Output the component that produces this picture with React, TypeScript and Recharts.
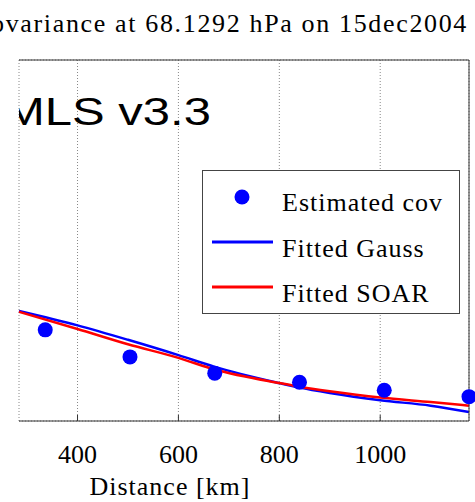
import React from 'react';
import {
  ComposedChart,
  Line,
  Scatter,
  XAxis,
  YAxis,
  CartesianGrid,
  Legend,
} from 'recharts';

// estimated covariance (arbitrary units, y tick labels are cropped away)
const covDistance = [336, 504, 672, 840, 1008, 1176];
const covEstimated = [1.01, 0.71, 0.53, 0.43, 0.34, 0.27];

// fitted curves sampled along the distance axis
const fitDistance = [284, 400, 500, 600, 672, 800, 840, 900, 1000, 1100, 1176];
const gaussFit = [1.22, 1.06, 0.9, 0.73, 0.6, 0.42, 0.37, 0.31, 0.23, 0.17, 0.1];
const soarFit = [1.21, 1.02, 0.85, 0.7, 0.57, 0.42, 0.38, 0.33, 0.26, 0.21, 0.17];

const xTicks = [400, 600, 800, 1000];
const yTicks = [1, 2, 3];

const titleText = 'Covariance at 68.1292 hPa on 15dec2004';
const versionText = 'MLS v3.3';
const xLabel = 'Distance [km]';

const serif = '"Liberation Serif", "DejaVu Serif", serif';
const sans = '"Liberation Sans", Arial, sans-serif';
const axisColor = '#333';

const covData = covDistance.map((x, i) => ({ x, y: covEstimated[i] }));
const gaussData = fitDistance.map((x, i) => ({ x, y: gaussFit[i] }));
const soarData = fitDistance.map((x, i) => ({ x, y: soarFit[i] }));

const LegendBox = () => (
  <svg width={258} height={144} style={{ display: 'block' }}>
    <rect x={0.5} y={0.5} width={257} height={143} fill="#fff" stroke="#444" />
    <circle cx={40} cy={27} r={7.5} fill="#0000ff" />
    <text x={80} y={41} fontFamily={serif} fontSize={26} letterSpacing={1}>Estimated cov</text>
    <line x1={10} x2={71} y1={72} y2={72} stroke="#0000ff" strokeWidth={3} />
    <text x={80} y={87} fontFamily={serif} fontSize={26} letterSpacing={1}>Fitted Gauss</text>
    <line x1={10} x2={71} y1={117} y2={117} stroke="#ff0000" strokeWidth={3} />
    <text x={80} y={132} fontFamily={serif} fontSize={26} letterSpacing={1}>Fitted SOAR</text>
  </svg>
);

export default function App() {
  return (
    <div style={{ position: 'absolute', left: 0, top: 0, width: 475, height: 502, overflow: 'hidden', background: '#fff' }}>
      <ComposedChart width={475} height={502} margin={{ top: 59, right: 5, bottom: 51, left: 19 }}>
        <CartesianGrid stroke="#888" strokeDasharray="1 2" />
        <XAxis
          dataKey="x"
          type="number"
          domain={[284, 1176]}
          ticks={xTicks}
          height={30}
          stroke={axisColor}
          tickSize={-6}
          tickMargin={30}
          tick={{ fontSize: 26, fill: '#000', fontFamily: serif }}
        />
        <XAxis
          xAxisId="top"
          orientation="top"
          dataKey="x"
          type="number"
          domain={[284, 1176]}
          ticks={xTicks}
          height={1}
          stroke={axisColor}
          tickSize={-6}
          tick={false}
        />
        <YAxis
          orientation="right"
          type="number"
          domain={[0, 4]}
          ticks={yTicks}
          width={1}
          stroke={axisColor}
          tickSize={-6}
          tick={false}
        />
        <Legend
          layout="horizontal"
          verticalAlign="middle"
          align="center"
          wrapperStyle={{ left: 202, top: 170, width: 258, height: 144 }}
          content={() => <LegendBox />}
        />
        <Scatter
          name="Estimated cov"
          data={covData}
          dataKey="y"
          fill="#0000ff"
          isAnimationActive={false}
          shape={(p: any) => <circle cx={p.cx} cy={p.cy} r={7.5} fill="#0000ff" />}
        />
        <Line
          name="Fitted Gauss"
          data={gaussData}
          dataKey="y"
          type="monotone"
          stroke="#0000ff"
          strokeWidth={2.5}
          dot={false}
          isAnimationActive={false}
        />
        <Line
          name="Fitted SOAR"
          data={soarData}
          dataKey="y"
          type="monotone"
          stroke="#ff0000"
          strokeWidth={2.5}
          dot={false}
          isAnimationActive={false}
        />
      </ComposedChart>
      <svg width={475} height={502} style={{ position: 'absolute', left: 0, top: 0, pointerEvents: 'none' }}>
        <defs>
          <clipPath id="plotClip">
            <rect x={19} y={60} width={451} height={361} />
          </clipPath>
        </defs>
        <text x={468} y={32} textAnchor="end" fontFamily={serif} fontSize={26} letterSpacing={1.65}>{titleText}</text>
        <g clipPath="url(#plotClip)">
          <g transform="translate(4,125) scale(1.256,1)">
            <text x={0} y={0} fontFamily={sans} fontSize={39}>{versionText}</text>
          </g>
        </g>
        <text x={170} y={495} textAnchor="middle" fontFamily={serif} fontSize={26} letterSpacing={1}>{xLabel}</text>
      </svg>
    </div>
  );
}
